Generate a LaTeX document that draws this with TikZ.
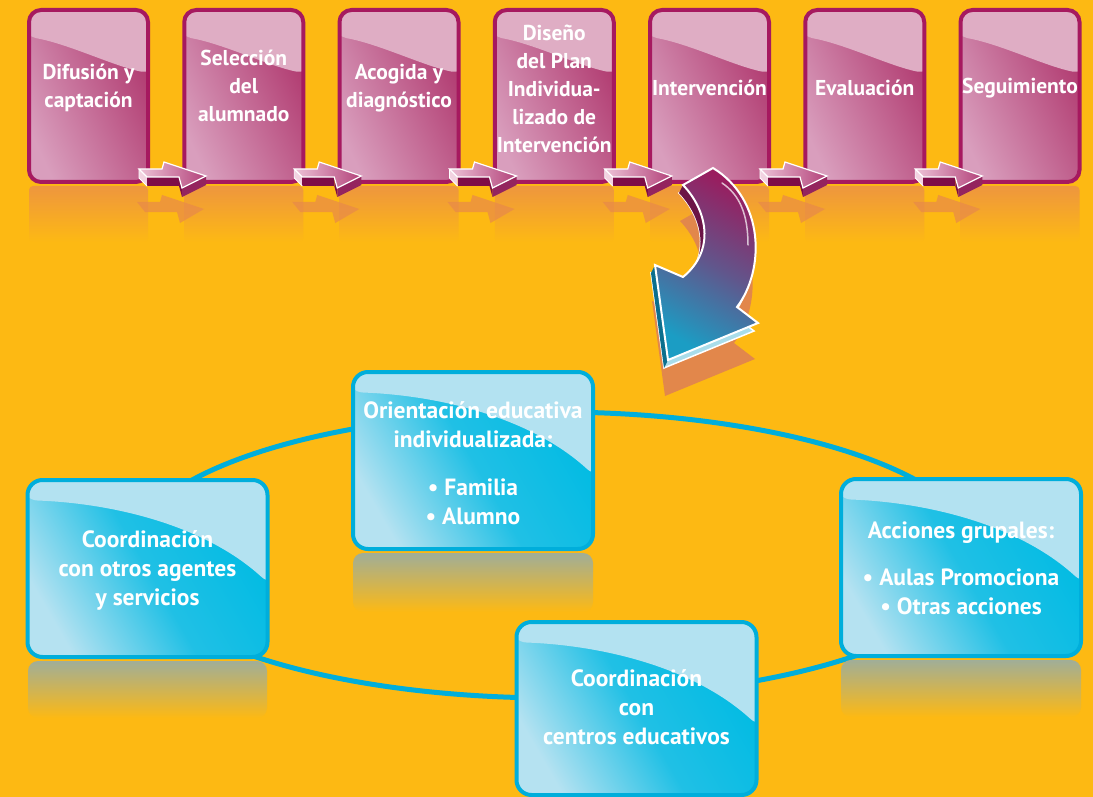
\documentclass[tikz,border=0pt]{standalone}
\usepackage{fontspec}
\setmainfont{PT Sans}
\usetikzlibrary{calc}
\definecolor{bg}{HTML}{FDB913}
\definecolor{pinkborder}{HTML}{A6195F}
\definecolor{pinkdark}{HTML}{B0396F}
\definecolor{pinklight}{HTML}{D99EBD}
\definecolor{pinkgloss}{HTML}{DFADC4}
\definecolor{pinkrefl}{HTML}{EE963E}
\definecolor{blueborder}{HTML}{00AEDB}
\definecolor{bluedark}{HTML}{00BBE3}
\definecolor{bluemid}{HTML}{20C0E5}
\definecolor{bluelight}{HTML}{B5E2F1}
\definecolor{bluegloss}{HTML}{B3E2F1}
\definecolor{bluerefl}{HTML}{A0AE98}
\definecolor{arrowtopL}{HTML}{EDC3D7}
\definecolor{arrowtopR}{HTML}{B3427A}
\definecolor{arrowfront}{HTML}{7E0D47}
\definecolor{arrowhead}{HTML}{94245E}
\definecolor{arrowtail}{HTML}{F2D3E1}
\definecolor{arrowrefl}{HTML}{E8894A}
\definecolor{amag}{HTML}{9A1C5E}
\definecolor{ateal}{HTML}{1B9DC4}
\definecolor{extrude}{HTML}{A9DDEA}
\definecolor{extrudedark}{HTML}{0C6F8D}
\definecolor{tailinner}{HTML}{6B1446}
\definecolor{shadowc}{HTML}{E2874B}
\tikzset{
  pinkbox/.style={draw=pinkborder, line width=4pt, rounded corners=12pt,
    minimum width=119pt, minimum height=172pt, inner sep=0pt,
    top color=pinkdark, bottom color=pinklight, shading angle=-65,
    path picture={\fill[pinkgloss]
      ($(path picture bounding box.north west)+(-5,-26)$) .. controls +(45,-8) and +(-40,8) ..
      ($(path picture bounding box.north east)+(5,-64)$) --
      ($(path picture bounding box.north east)+(5,5)$) --
      ($(path picture bounding box.north west)+(-5,5)$) -- cycle;}},
  bluebox/.style={draw=blueborder, line width=4pt, rounded corners=15pt,
    minimum width=240pt, minimum height=177pt, inner sep=0pt,
    top color=bluedark, bottom color=bluelight, middle color=bluemid, shading angle=-60,
    path picture={\fill[bluegloss]
      ($(path picture bounding box.north west)+(-5,-20)$) .. controls +(85,-3) and +(-70,64) ..
      ($(path picture bounding box.north east)+(5,-107)$) --
      ($(path picture bounding box.north east)+(5,5)$) --
      ($(path picture bounding box.north west)+(-5,5)$) -- cycle;}},
  boxtext/.style={text=white, font=\bfseries\fontsize{21.5}{28}\selectfont, align=center, inner sep=0pt},
  bluetext/.style={text=white, font=\bfseries\fontsize{23.5}{29}\selectfont, align=center, inner sep=0pt},
  ring/.style={draw=blueborder, line width=5pt},
  flatarrow/.pic={
    \fill[arrowtail] (0,0)--(8,-8)--(8,-17)--(0,-9)--cycle;
    \fill[arrowfront] (8,-8)--(40,-8)--(40,-17)--(8,-17)--cycle;
    \fill[arrowfront] (40,-8)--(43,-19)--(43,-28)--(40,-17)--cycle;
    \fill[arrowhead] (43,-19)--(67,-7)--(67,-16)--(43,-28)--cycle;
    \draw[white, line width=0.8pt] (0,0)--(0,-9)--(8,-17);
    \draw[white, line width=1.2pt, left color=arrowtopL, right color=arrowtopR]
      (0,0)--(23,0)--(25,7)--(67,-7)--(43,-19)--(40,-8)--(8,-8)--cycle;
  },
  flatarrowrefl/.pic={
    \fill[arrowrefl, opacity=0.7]
      (0,0)--(23,0)--(25,7)--(67,-7)--(43,-21)--(40,-10)--(8,-10)--cycle;
  },
  bigarrowshape/.pic={
    \path[pic actions] (713,-168) -- (683,-185) .. controls (707,-210) and (716,-250) .. (683,-277)
      -- (655,-265) -- (668,-360) -- (758,-323) -- (737,-307)
      .. controls (765,-270) and (765,-200) .. (713,-168) -- cycle;
  }
}
\begin{document}
\begin{tikzpicture}[x=1pt,y=1pt]
\useasboundingbox (0,0) rectangle (1093,-797);
\fill[bg] (0,0) rectangle (1093,-797);

% reflections of the top boxes
\foreach \cx in {88.5,243.75,399,554.25,709.5,864.75,1020}
  \shade[top color=pinkrefl, bottom color=bg, rounded corners=4pt] (\cx-59.5,-186) rectangle (\cx+59.5,-242);
% reflections of the small arrows
\foreach \ax in {137,292.25,447.5,602.75,758,913.25}
  \pic at (\ax,-202) {flatarrowrefl};

% top boxes
\node[pinkbox] (b1) at (88.5,-96) {};
\node[pinkbox] (b2) at (243.75,-96) {};
\node[pinkbox] (b3) at (399,-96) {};
\node[pinkbox] (b4) at (554.25,-96) {};
\node[pinkbox] (b5) at (709.5,-96) {};
\node[pinkbox] (b6) at (864.75,-96) {};
\node[pinkbox] (b7) at (1020,-96) {};

\node[boxtext] (t1) at (88.5,-88) {Difusión y\\captación};
\node[boxtext] (t2) at (243.75,-86) {Selección\\del\\alumnado};
\node[boxtext] (t3) at (399,-88) {Acogida y\\diagnóstico};
\node[boxtext] (t4) at (554.25,-89) {Diseño\\del Plan\\Individua-\\lizado de\\Intervención};
\node[boxtext] (t5) at (709.5,-88) {Intervención};
\node[boxtext] (t6) at (864.75,-88) {Evaluación};
\node[boxtext] (t7) at (1020,-88) {Seguimiento};

% small arrows between the boxes
\pic at ($(b1.south east)+(-11,15)$) {flatarrow};
\pic at ($(b2.south east)+(-11,15)$) {flatarrow};
\pic at ($(b3.south east)+(-11,15)$) {flatarrow};
\pic at ($(b4.south east)+(-11,15)$) {flatarrow};
\pic at ($(b5.south east)+(-11,15)$) {flatarrow};
\pic at ($(b6.south east)+(-11,15)$) {flatarrow};

% ring
\draw[ring] (554,-555) ellipse [x radius=425, y radius=143];

% reflections of the blue boxes
\shade[top color=bluerefl, bottom color=bg, rounded corners=10pt] (353,-553) rectangle (593,-612);
\shade[top color=bluerefl, bottom color=bg, rounded corners=10pt] (28,-661) rectangle (267,-718);
\shade[top color=bluerefl, bottom color=bg, rounded corners=10pt] (841,-660) rectangle (1081,-717);

% blue boxes
\node[bluebox] (o1) at (473,-460.5) {};
\node[bluebox] (o2) at (147.5,-568.5) {};
\node[bluebox] (o3) at (961,-567.5) {};
\node[bluebox, minimum height=173pt] (o4) at (636.5,-708.5) {};

\node[bluetext] (u1) at (473,-463) {Orientación educativa\\individualizada:\\[19pt]• Familia\\• Alumno};
\node[bluetext] (u2) at (147.5,-570) {Coordinación\\con otros agentes\\y servicios};
\node[bluetext] (u3) at (961,-568) {Acciones grupales:\\[18pt]• Aulas Promociona\\• Otras acciones};
\node[bluetext] (u4) at (636.5,-707) {Coordinación\\con\\centros educativos};

% big curved arrow
\pic[fill=shadowc] at (-3,-36) {bigarrowshape};
\pic[fill=extrude, draw=white, line width=1.5pt] at (-4,-8) {bigarrowshape};
\fill[extrudedark] (655,-265) -- (668,-360) -- (664,-368) -- (651,-273) -- cycle;
\fill[tailinner] (683,-185) .. controls (707,-210) and (716,-250) .. (683,-277) -- (679,-285)
  .. controls (712,-258) and (703,-218) .. (679,-193) -- cycle;
\pic[draw=white, line width=2pt, top color=amag, bottom color=ateal, middle color=amag!55!ateal, shading angle=-30] at (0,0) {bigarrowshape};
\draw[white, opacity=0.7, line width=1.5pt, line cap=round] (722,-183) .. controls (740,-195) and (748,-215) .. (748,-245);
\end{tikzpicture}
\end{document}
